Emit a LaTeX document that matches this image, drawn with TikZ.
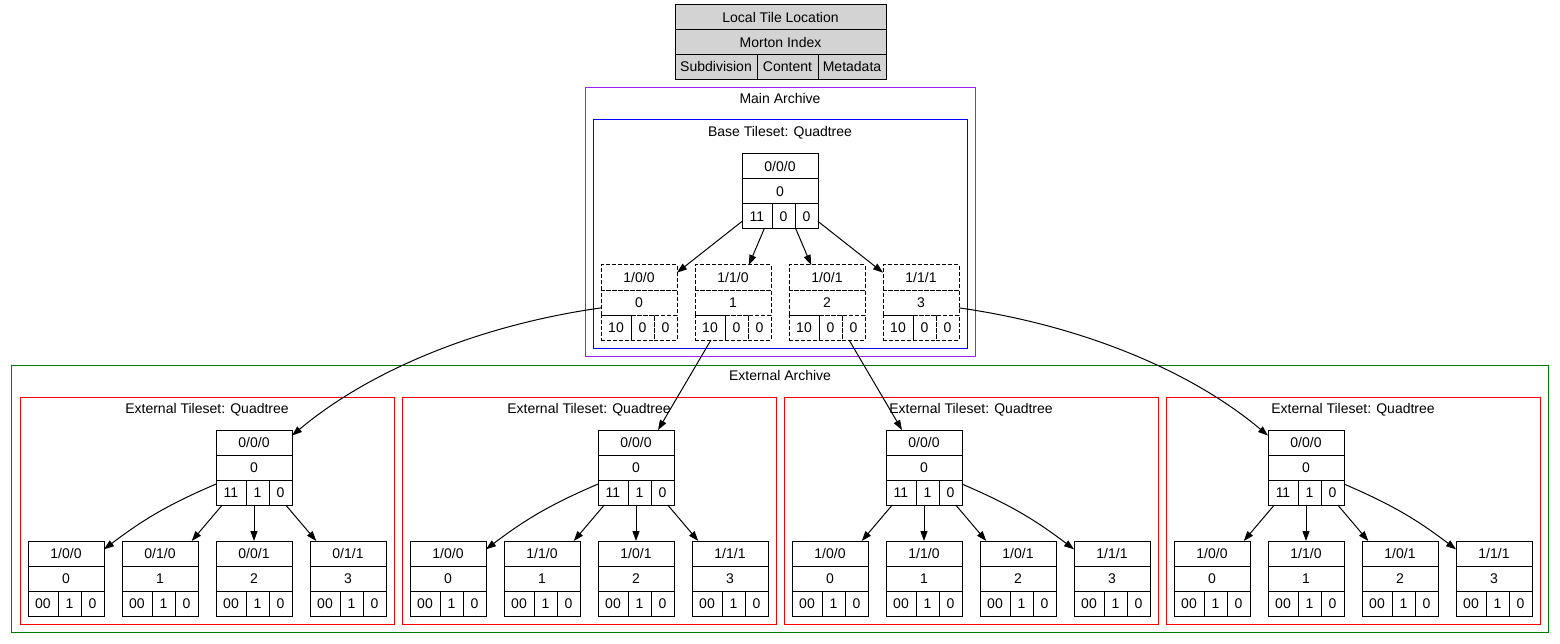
\documentclass[tikz,border=0pt]{standalone}
\usepackage{fontspec}
\setmainfont{Liberation Sans}
\usetikzlibrary{positioning}
\usetikzlibrary{fit,arrows.meta}
\definecolor{legendgray}{HTML}{D3D3D3}
\definecolor{archpurple}{HTML}{A020F0}
\definecolor{archgreen}{HTML}{008000}
\tikzstyle{cell} = [draw=black, line width=1pt, inner sep=0pt, outer sep=0pt, minimum height=25pt, font=\fontsize{14}{14}\selectfont]
\tikzstyle{virt} = [dash pattern=on 4pt off 2pt]
\tikzstyle{cluster} = [line width=1pt, inner sep=0pt, outer sep=0pt, anchor=north west]
\tikzstyle{lbl} = [inner sep=0pt, anchor=base, font=\fontsize{14}{14}\selectfont]
\tikzstyle{link} = [line width=1pt, -{Triangle[length=10pt,width=7pt]}]
% #1 name, #2 extra style, #3/#4 top left, #5 location, #6 morton, #7 subdivision, #8 content, #9 metadata
\newcommand{\TileRec}[9]{%
  \node[cell, #2, minimum width=76pt, anchor=north west] (#1loc) at (#3,#4) {#5};
  \node[cell, #2, minimum width=76pt, below=0pt of #1loc] (#1idx) {#6};
  \node[cell, #2, minimum width=30pt, anchor=north west] (#1sub) at (#1idx.south west) {#7};
  \node[cell, #2, minimum width=23pt, right=0pt of #1sub] (#1con) {#8};
  \node[cell, #2, minimum width=23pt, right=0pt of #1con] (#1meta) {#9};
  \node[fit=(#1loc)(#1meta), inner sep=0pt, outer sep=0pt] (#1) {};
}

\begin{document}
\begin{tikzpicture}[x=1pt, y=-1pt]
\useasboundingbox (0,0) rectangle (1560,644);

% Legend
\node[cell, fill=legendgray, minimum width=211pt, minimum height=24.67pt, anchor=north west] (legloc) at (675,5) {Local Tile Location};
\node[cell, fill=legendgray, minimum width=211pt, minimum height=24.67pt, below=0pt of legloc] (legidx) {Morton Index};
\node[cell, fill=legendgray, minimum width=82pt, minimum height=24.67pt, anchor=north west] (legsub) at (legidx.south west) {Subdivision};
\node[cell, fill=legendgray, minimum width=61pt, minimum height=24.67pt, right=0pt of legsub] (legcon) {Content};
\node[cell, fill=legendgray, minimum width=68pt, minimum height=24.67pt, right=0pt of legcon] (legmeta) {Metadata};

% Clusters
\node[cluster, draw=archpurple, minimum width=390pt, minimum height=268pt] (mainarch) at (585,88) {};
\node[lbl] (mainlbl) at (780,104) {Main Archive};
\node[cluster, draw=blue, minimum width=374pt, minimum height=228pt] (basets) at (593,120) {};
\node[lbl] (baselbl) at (780,136.5) {Base Tileset: Quadtree};
\node[cluster, draw=archgreen, minimum width=1537pt, minimum height=267pt] (extarch) at (11,365) {};
\node[lbl] (extlbl) at (780,380) {External Archive};
\node[cluster, draw=red, minimum width=374pt, minimum height=227pt] (ets1) at (20,397) {};
\node[lbl] (ets1lbl) at (207,413) {External Tileset: Quadtree};
\node[cluster, draw=red, minimum width=374pt, minimum height=227pt] (ets2) at (402,397) {};
\node[lbl] (ets2lbl) at (589,413) {External Tileset: Quadtree};
\node[cluster, draw=red, minimum width=374pt, minimum height=227pt] (ets3) at (784,397) {};
\node[lbl] (ets3lbl) at (971,413) {External Tileset: Quadtree};
\node[cluster, draw=red, minimum width=374pt, minimum height=227pt] (ets4) at (1166,397) {};
\node[lbl] (ets4lbl) at (1353,413) {External Tileset: Quadtree};

% Base tileset
\TileRec{broot}{}{742}{154}{0/0/0}{0}{11}{0}{0}
\TileRec{bc1}{virt}{601}{265}{1/0/0}{0}{10}{0}{0}
\TileRec{bc2}{virt}{695}{265}{1/1/0}{1}{10}{0}{0}
\TileRec{bc3}{virt}{789}{265}{1/0/1}{2}{10}{0}{0}
\TileRec{bc4}{virt}{883}{265}{1/1/1}{3}{10}{0}{0}

% External tilesets
\TileRec{ea}{}{216}{430}{0/0/0}{0}{11}{1}{0}
\TileRec{ea1}{}{28}{541}{1/0/0}{0}{00}{1}{0}
\TileRec{ea2}{}{122}{541}{0/1/0}{1}{00}{1}{0}
\TileRec{ea3}{}{216}{541}{0/0/1}{2}{00}{1}{0}
\TileRec{ea4}{}{310}{541}{0/1/1}{3}{00}{1}{0}

\TileRec{eb}{}{598}{430}{0/0/0}{0}{11}{1}{0}
\TileRec{eb1}{}{410}{541}{1/0/0}{0}{00}{1}{0}
\TileRec{eb2}{}{504}{541}{1/1/0}{1}{00}{1}{0}
\TileRec{eb3}{}{598}{541}{1/0/1}{2}{00}{1}{0}
\TileRec{eb4}{}{692}{541}{1/1/1}{3}{00}{1}{0}

\TileRec{ec}{}{886}{430}{0/0/0}{0}{11}{1}{0}
\TileRec{ec1}{}{792}{541}{1/0/0}{0}{00}{1}{0}
\TileRec{ec2}{}{886}{541}{1/1/0}{1}{00}{1}{0}
\TileRec{ec3}{}{980}{541}{1/0/1}{2}{00}{1}{0}
\TileRec{ec4}{}{1074}{541}{1/1/1}{3}{00}{1}{0}

\TileRec{ed}{}{1268}{430}{0/0/0}{0}{11}{1}{0}
\TileRec{ed1}{}{1174}{541}{1/0/0}{0}{00}{1}{0}
\TileRec{ed2}{}{1268}{541}{1/1/0}{1}{00}{1}{0}
\TileRec{ed3}{}{1362}{541}{1/0/1}{2}{00}{1}{0}
\TileRec{ed4}{}{1456}{541}{1/1/1}{3}{00}{1}{0}

% Edges
\draw[link] (broot) -- (bc1);
\draw[link] (broot) -- (bc2);
\draw[link] (broot) -- (bc3);
\draw[link] (broot) -- (bc4);

\draw[link] (bc1) .. controls (480,325) and (370,370) .. (ea);
\draw[link] (bc2) -- (eb);
\draw[link] (bc3) -- (ec);
\draw[link] (bc4) .. controls (1080,325) and (1190,370) .. (ed);

\draw[link] (ea) to[bend right=7] (ea1);
\draw[link] (ea) -- (ea2);
\draw[link] (ea) -- (ea3);
\draw[link] (ea) -- (ea4);
\draw[link] (eb) to[bend right=7] (eb1);
\draw[link] (eb) -- (eb2);
\draw[link] (eb) -- (eb3);
\draw[link] (eb) -- (eb4);
\draw[link] (ec) -- (ec1);
\draw[link] (ec) -- (ec2);
\draw[link] (ec) -- (ec3);
\draw[link] (ec) to[bend left=7] (ec4);
\draw[link] (ed) -- (ed1);
\draw[link] (ed) -- (ed2);
\draw[link] (ed) -- (ed3);
\draw[link] (ed) to[bend left=7] (ed4);
\end{tikzpicture}
\end{document}
